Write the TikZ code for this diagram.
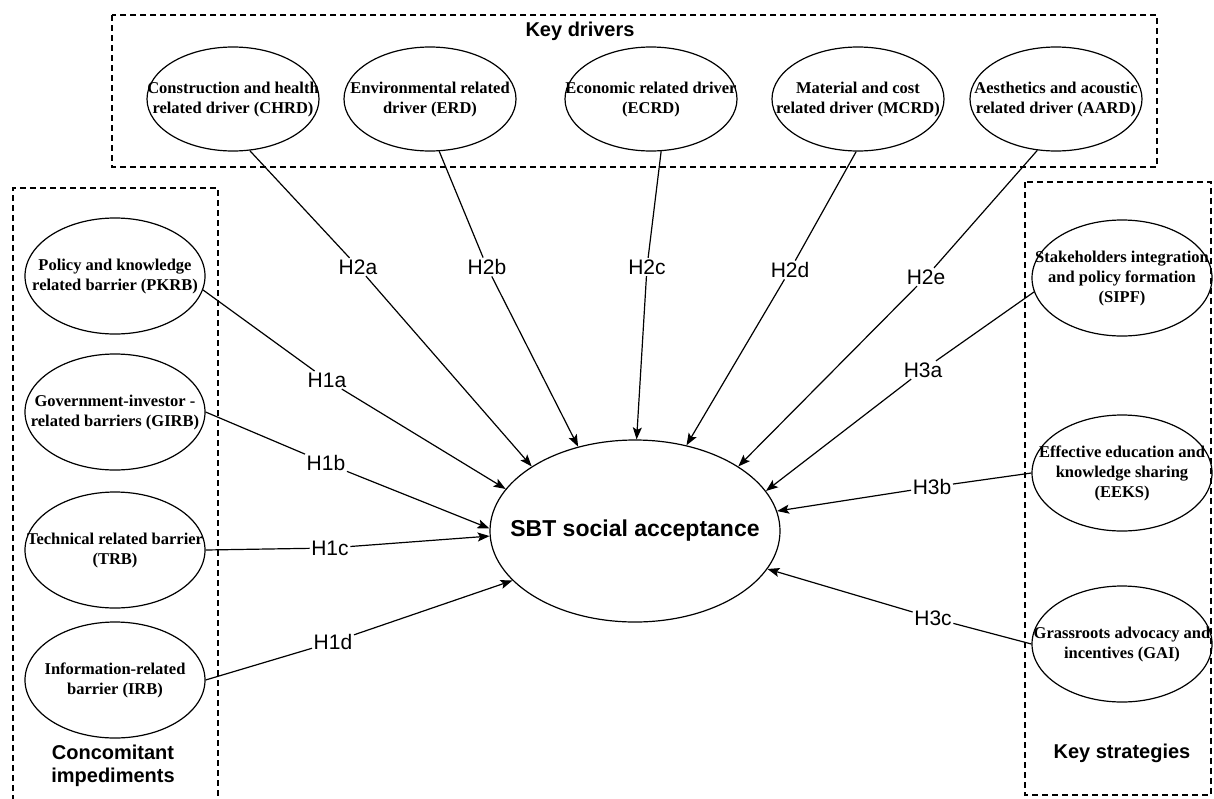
\documentclass[tikz,border=0pt]{standalone}
\usepackage{fontspec}
\setmainfont{Liberation Serif}
\setsansfont{Liberation Sans}
\usetikzlibrary{shapes.geometric,arrows.meta}

\newcommand{\ellbox}[1]{\makebox[0pt]{\begin{tabular}{@{}c@{}}#1\end{tabular}}}

\tikzset{
    factor/.style={draw, ellipse, line width=1.2pt, inner sep=0pt,
        minimum width=172pt, minimum height=104pt,
        font=\bfseries\fontsize{16.5}{20}\selectfont},
    sidefactor/.style={factor, minimum width=180pt, minimum height=116pt},
    hyp/.style={font=\sffamily\fontsize{21}{25}\selectfont, inner sep=1.5pt},
    arr/.style={line width=1.2pt, -{Stealth[length=12pt,width=9pt,inset=2.5pt]}},
    frame/.style={line width=1.2pt, dash pattern=on 6pt off 4pt},
    grp/.style={font=\sffamily\bfseries\fontsize{20}{23}\selectfont, align=center}
}

\begin{document}
\begin{tikzpicture}[x=1pt, y=-1pt]
    \useasboundingbox (0,0) rectangle (1214,798);

    % Group frames
    \draw[frame] (112,15) rectangle (1157,167);
    \draw[frame] (13,801) -- (13,188) -- (218,188) -- (218,801);
    \draw[frame] (1025,182) rectangle (1211,795);
    \node (keydrv) [grp] at (580,31) {Key drivers};
    \node (concomit) [grp] at (113,766) {Concomitant\\impediments};
    \node (keystrat) [grp] at (1122,753) {Key strategies};

    % Nodes
    \node (sbt) [draw, ellipse, line width=1.2pt, inner sep=0pt, minimum width=290pt, minimum height=182pt,
        font=\sffamily\bfseries\fontsize{23}{27}\selectfont] at (635,531) {\ellbox{SBT social acceptance}};

    \node (chrd) [factor] at (233,99) {\ellbox{Construction and health\\related driver (CHRD)}};
    \node (erd) [factor] at (430,99) {\ellbox{Environmental related\\driver (ERD)}};
    \node (ecrd) [factor] at (651,99) {\ellbox{Economic related driver\\(ECRD)}};
    \node (mcrd) [factor] at (858,99) {\ellbox{Material and cost\\related driver (MCRD)}};
    \node (aard) [factor] at (1056,99) {\ellbox{Aesthetics and acoustic\\related driver (AARD)}};

    \node (pkrb) [sidefactor] at (115,276) {\ellbox{Policy and knowledge\\related barrier (PKRB)}};
    \node (girb) [sidefactor] at (115,412) {\ellbox{Government-investor -\\related barriers (GIRB)}};
    \node (trb) [sidefactor] at (115,550) {\ellbox{Technical related barrier\\(TRB)}};
    \node (irb) [sidefactor] at (115,680) {\ellbox{Information-related\\barrier (IRB)}};

    \node (sipf) [sidefactor] at (1122,278) {\ellbox{Stakeholders integration\\and policy formation\\(SIPF)}};
    \node (eeks) [sidefactor] at (1122,473) {\ellbox{Effective education and\\knowledge sharing\\(EEKS)}};
    \node (gai) [sidefactor] at (1122,644) {\ellbox{Grassroots advocacy and\\incentives (GAI)}};

    % Hypothesis labels
    \node (h2a) [hyp] at (358,267) {H2a};
    \node (h2b) [hyp] at (487,267) {H2b};
    \node (h2c) [hyp] at (647,267) {H2c};
    \node (h2d) [hyp] at (790,270) {H2d};
    \node (h2e) [hyp] at (926,277) {H2e};
    \node (h1a) [hyp] at (327,380) {H1a};
    \node (h1b) [hyp] at (326,463) {H1b};
    \node (h1c) [hyp] at (330,548) {H1c};
    \node (h1d) [hyp] at (333,642) {H1d};
    \node (h3a) [hyp] at (923,370) {H3a};
    \node (h3b) [hyp] at (932,487) {H3b};
    \node (h3c) [hyp] at (933,618) {H3c};

    % Arrows
    \draw[arr] (chrd.-72) -- (h2a) -- (sbt.148);
    \draw[arr] (erd.-80) -- (h2b) -- (sbt.124);
    \draw[arr] (ecrd.-79) -- (h2c) -- (sbt.89);
    \draw[arr] (mcrd.-92) -- (h2d) -- (sbt.59);
    \draw[arr] (aard.-110) -- (h2e) -- (sbt.32);
    \draw[arr] (pkrb.-9) -- (h1a) -- (sbt.162);
    \draw[arr] (girb.0) -- (h1b) -- (sbt.179);
    \draw[arr] (trb.0) -- (h1c) -- (sbt.182);
    \draw[arr] (irb.0) -- (h1d) -- (sbt.202);
    \draw[arr] (sipf.189) -- (h3a) -- (sbt.17);
    \draw[arr] (eeks.180) -- (h3b) -- (sbt.8);
    \draw[arr] (gai.180) -- (h3c) -- (sbt.-16);
\end{tikzpicture}
\end{document}
